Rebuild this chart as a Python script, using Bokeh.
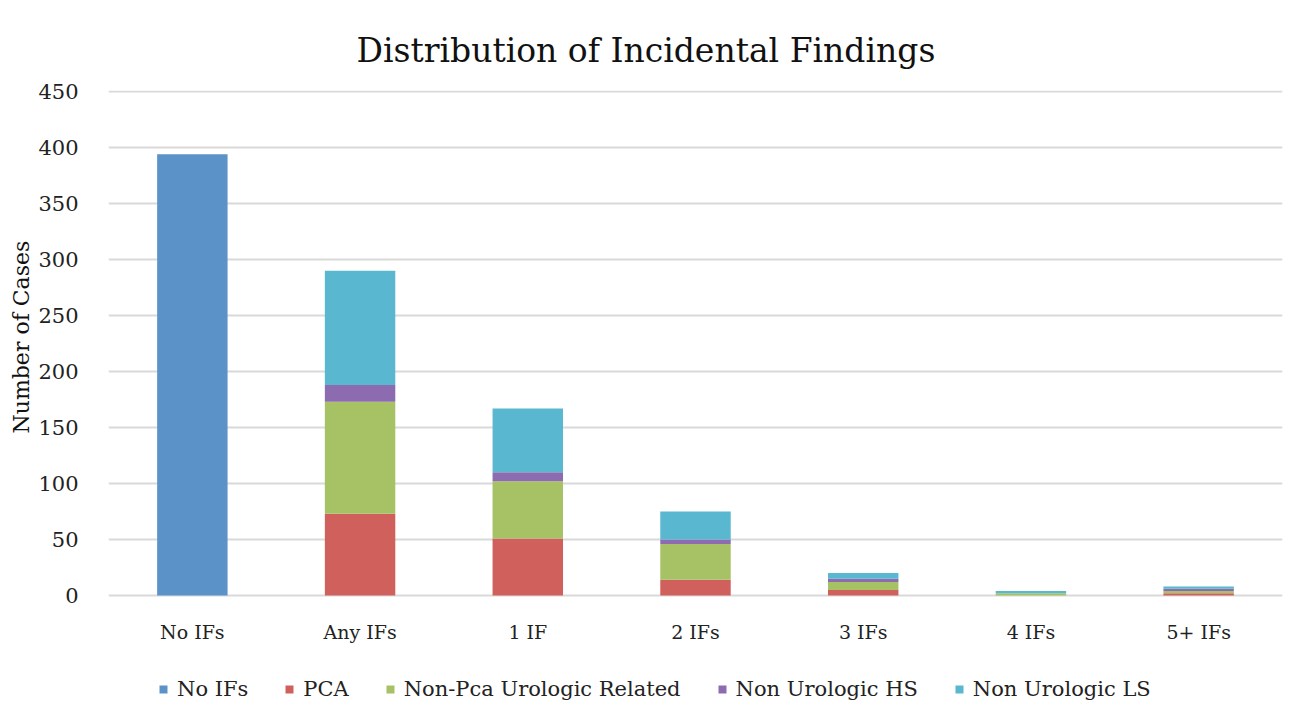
from bokeh.plotting import figure
from bokeh.models import ColumnDataSource, FactorRange, Range1d, FixedTicker, Legend, LegendItem, Title
from bokeh.embed import file_html
from bokeh.resources import INLINE

categories = ["No IFs", "Any IFs", "1 IF", "2 IFs", "3 IFs", "4 IFs", "5+ IFs"]
no_ifs = [394, 0, 0, 0, 0, 0, 0]
pca = [0, 73, 51, 14, 5, 0, 2]
non_pca_urologic = [0, 100, 51, 32, 7, 2, 2]
non_urologic_hs = [0, 15, 8, 4, 3, 0, 2]
non_urologic_ls = [0, 102, 57, 25, 5, 2, 2]
y_ticks = [0, 50, 100, 150, 200, 250, 300, 350, 400, 450]

series = ["no_ifs", "pca", "non_pca", "hs", "ls"]
labels = ["No IFs", "PCA", "Non-Pca Urologic Related", "Non Urologic HS", "Non Urologic LS"]
colors = ["#5b93c8", "#d0605c", "#a7c265", "#8c6bb1", "#59b7d0"]

source = ColumnDataSource(dict(cat=categories, no_ifs=no_ifs, pca=pca,
                               non_pca=non_pca_urologic, hs=non_urologic_hs,
                               ls=non_urologic_ls))

FONT = "DejaVu Serif"

# layout: 450 units span 504 px; the frame also holds the legend area below zero
PX_PER_UNIT = 504 / 450
FRAME_H = 615
y_end = 450 + 1 / PX_PER_UNIT
y_start = y_end - FRAME_H / PX_PER_UNIT

p = figure(x_range=FactorRange(*categories), y_range=Range1d(y_start, y_end),
           frame_width=1174, frame_height=FRAME_H, output_backend="svg", toolbar_location=None,
           min_border_left=108, min_border_right=7, min_border_top=90,
           min_border_bottom=6)
p.outline_line_color = None

p.title.text = "Distribution of Incidental Findings"
p.title.align = "left"
p.title.offset = 248
p.title.vertical_align = "top"
p.title.text_font = FONT
p.title.text_font_size = "33px"
p.title.text_font_style = "normal"
p.title.text_color = "#111111"
p.title.standoff = 37

renderers = p.vbar_stack(series, x="cat", width=0.42, color=colors, line_color=None,
                         source=source)

p.xgrid.grid_line_color = None
p.ygrid.grid_line_color = "#d9d9d9"
p.ygrid.grid_line_width = 2
p.ygrid.ticker = FixedTicker(ticks=y_ticks)

p.yaxis.ticker = FixedTicker(ticks=y_ticks)
p.yaxis.axis_line_color = None
p.yaxis.major_tick_line_color = None
p.yaxis.minor_tick_line_color = None
p.yaxis.major_label_standoff = 24
p.yaxis.major_label_text_font = FONT
p.yaxis.major_label_text_font_size = "21px"
p.yaxis.major_label_text_color = "#222222"

ytitle = Title(text="Number of Cases", align="left", offset=272, standoff=4,
               text_font=FONT, text_font_size="22px", text_font_style="normal",
               text_color="#111111")
p.add_layout(ytitle, "left")

p.xaxis.fixed_location = 0
p.xaxis.axis_line_color = None
p.xaxis.major_tick_line_color = None
p.xaxis.major_label_standoff = 19
p.xaxis.major_label_text_font = FONT
p.xaxis.major_label_text_font_size = "19px"
p.xaxis.major_label_text_color = "#222222"

legend = Legend(items=[LegendItem(label=l, renderers=[r]) for l, r in zip(labels, renderers)],
                orientation="horizontal", location=(50, 4),
                label_text_font=FONT, label_text_font_size="21px",
                label_text_color="#222222", glyph_width=10, glyph_height=10,
                label_standoff=9, spacing=36, border_line_color=None,
                background_fill_alpha=0, padding=3, margin=0)
p.add_layout(legend)

open("out.html", "w").write(file_html(p, INLINE))
